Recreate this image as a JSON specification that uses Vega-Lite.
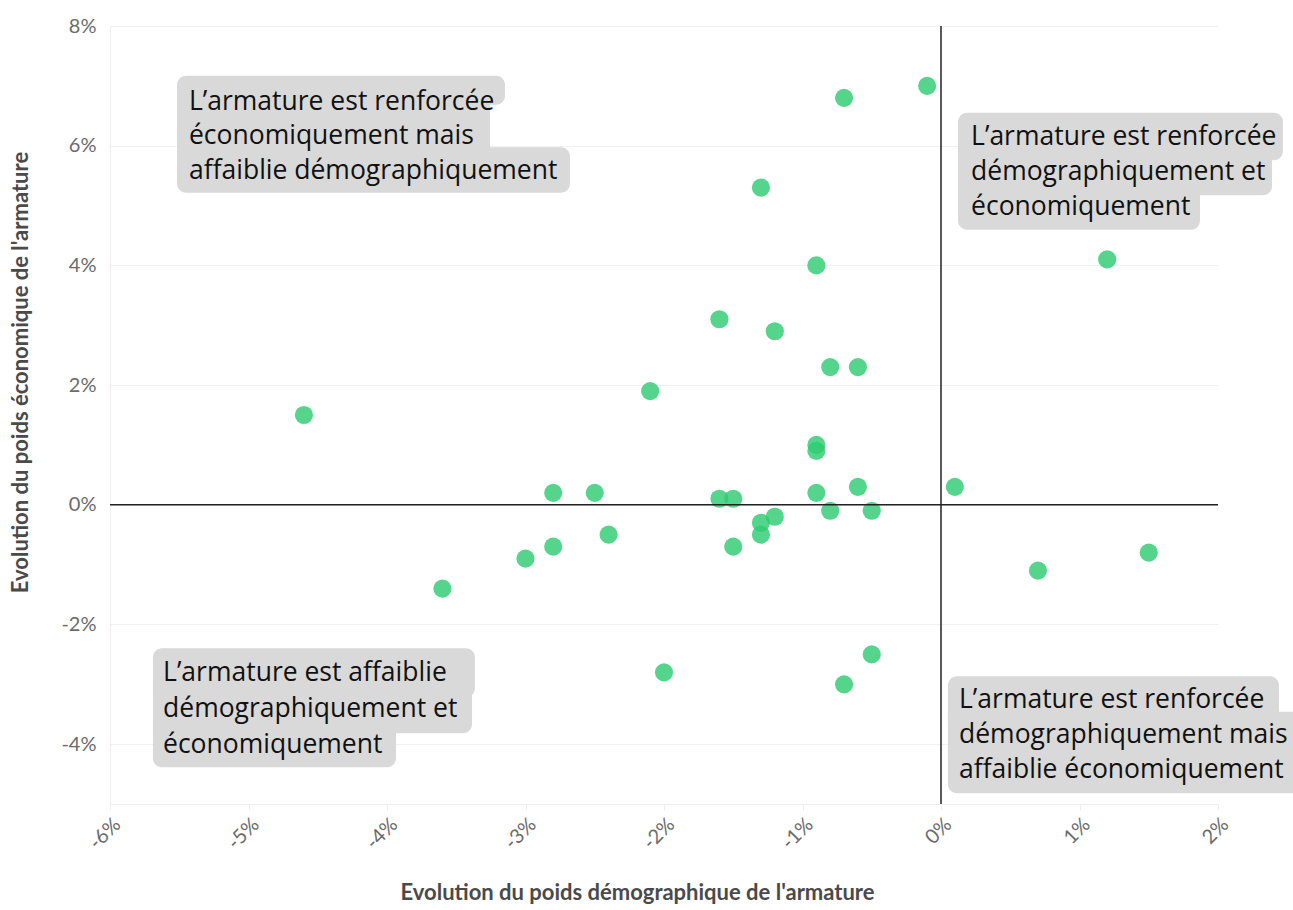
{
  "$schema": "https://vega.github.io/schema/vega-lite/v6.json",
  "width": 1108,
  "height": 778,
  "autosize": {"type": "none"},
  "padding": {"left": 110, "top": 26, "right": 75, "bottom": 106},
  "background": "white",
  "config": {
    "view": {"stroke": null},
    "axis": {
      "labelFont": "Lato",
      "titleFont": "Lato",
      "labelColor": "#6b6b6b",
      "titleColor": "#4a4a4a",
      "labelFontSize": 20,
      "titleFontSize": 22,
      "titleFontWeight": "bold",
      "domainColor": "#eeeeee",
      "tickColor": "#eeeeee",
      "gridColor": "#f0f0f0"
    }
  },
  "datasets": {
    "points": [
      {"demo": -0.1, "eco": 7.0},
      {"demo": -0.7, "eco": 6.8},
      {"demo": -1.3, "eco": 5.3},
      {"demo": 1.2, "eco": 4.1},
      {"demo": -0.9, "eco": 4.0},
      {"demo": -1.6, "eco": 3.1},
      {"demo": -1.2, "eco": 2.9},
      {"demo": -0.8, "eco": 2.3},
      {"demo": -0.6, "eco": 2.3},
      {"demo": -2.1, "eco": 1.9},
      {"demo": -4.6, "eco": 1.5},
      {"demo": -0.9, "eco": 1.0},
      {"demo": -0.9, "eco": 0.9},
      {"demo": 0.1, "eco": 0.3},
      {"demo": -0.6, "eco": 0.3},
      {"demo": -2.8, "eco": 0.2},
      {"demo": -2.5, "eco": 0.2},
      {"demo": -1.6, "eco": 0.1},
      {"demo": -1.5, "eco": 0.1},
      {"demo": -0.9, "eco": 0.2},
      {"demo": -0.8, "eco": -0.1},
      {"demo": -0.5, "eco": -0.1},
      {"demo": -1.2, "eco": -0.2},
      {"demo": -1.3, "eco": -0.3},
      {"demo": -1.3, "eco": -0.5},
      {"demo": -1.5, "eco": -0.7},
      {"demo": -2.4, "eco": -0.5},
      {"demo": -2.8, "eco": -0.7},
      {"demo": -3.0, "eco": -0.9},
      {"demo": -3.6, "eco": -1.4},
      {"demo": 1.5, "eco": -0.8},
      {"demo": 0.7, "eco": -1.1},
      {"demo": -0.5, "eco": -2.5},
      {"demo": -0.7, "eco": -3.0},
      {"demo": -2.0, "eco": -2.8}
    ],
    "notes": [
      {"pos": "top", "text": "L’armature est renforcée", "tx": -5.43, "ty": 6.734, "bx": -5.516, "bx2": -3.148, "by": 7.169, "by2": 6.684},
      {"pos": "mid", "text": "économiquement mais", "tx": -5.43, "ty": 6.166, "bx": -5.516, "bx2": -3.256, "by": 6.885, "by2": 5.773},
      {"pos": "bot", "text": "affaiblie démographiquement", "tx": -5.43, "ty": 5.58, "bx": -5.516, "bx2": -2.679, "by": 5.973, "by2": 5.212},
      {"pos": "top", "text": "L’armature est renforcée", "tx": 0.217, "ty": 6.149, "bx": 0.123, "bx2": 2.469, "by": 6.55, "by2": 5.756},
      {"pos": "mid", "text": "démographiquement et", "tx": 0.217, "ty": 5.564, "bx": 0.123, "bx2": 2.39, "by": 5.957, "by2": 5.171},
      {"pos": "bot", "text": "économiquement", "tx": 0.217, "ty": 4.978, "bx": 0.123, "bx2": 1.87, "by": 5.371, "by2": 4.594},
      {"pos": "top", "text": "L’armature est affaiblie", "tx": -5.617, "ty": -2.814, "bx": -5.69, "bx2": -3.365, "by": -2.396, "by2": -3.216},
      {"pos": "mid", "text": "démographiquement et", "tx": -5.617, "ty": -3.416, "bx": -5.69, "bx2": -3.386, "by": -3.015, "by2": -3.818},
      {"pos": "bot", "text": "économiquement", "tx": -5.617, "ty": -4.018, "bx": -5.69, "bx2": -3.935, "by": -3.617, "by2": -4.386},
      {"pos": "top", "text": "L’armature est renforcée", "tx": 0.13, "ty": -3.266, "bx": 0.05, "bx2": 2.44, "by": -2.865, "by2": -3.659},
      {"pos": "mid", "text": "démographiquement mais", "tx": 0.13, "ty": -3.851, "bx": 0.05, "bx2": 2.62, "by": -3.458, "by2": -4.244},
      {"pos": "bot", "text": "affaiblie économiquement", "tx": 0.13, "ty": -4.436, "bx": 0.05, "bx2": 2.62, "by": -4.043, "by2": -4.821}
    ]
  },
  "layer": [
    {
      "data": {"name": "points"},
      "mark": {"type": "circle", "size": 330, "color": "#2ecc71", "opacity": 0.82},
      "encoding": {
        "x": {
          "field": "demo", "type": "quantitative",
          "scale": {"domain": [-6, 2], "nice": false, "zero": false},
          "axis": {
            "values": [-6, -5, -4, -3, -2, -1, 0, 1, 2],
            "labelExpr": "datum.value + '%'",
            "labelAngle": -45,
            "grid": false,
            "tickSize": 6,
            "labelPadding": 4,
            "title": "Evolution du poids démographique de l'armature",
            "titlePadding": 30,
            "titleX": 527
          }
        },
        "y": {
          "field": "eco", "type": "quantitative",
          "scale": {"domain": [-5, 8], "nice": false, "zero": false},
          "axis": {
            "values": [-4, -2, 0, 2, 4, 6, 8],
            "labelExpr": "datum.value + '%'",
            "grid": true,
            "ticks": false,
            "labelPadding": 14,
            "title": "Evolution du poids économique de l'armature",
            "titlePadding": 28,
            "titleY": 346
          }
        }
      }
    },
    {
      "data": {"values": [{"v": 0}]},
      "mark": {"type": "rule", "color": "#222222", "strokeWidth": 1.5},
      "encoding": {"x": {"field": "v", "type": "quantitative"}}
    },
    {
      "data": {"values": [{"v": 0}]},
      "mark": {"type": "rule", "color": "#222222", "strokeWidth": 1.5},
      "encoding": {"y": {"field": "v", "type": "quantitative"}}
    },
    {
      "data": {"name": "notes"},
      "transform": [{"filter": "datum.pos === 'top'"}],
      "mark": {"type": "rect", "color": "#d9d9d9", "cornerRadiusTopLeft": 9, "cornerRadiusTopRight": 9, "cornerRadiusBottomRight": 9, "cornerRadiusBottomLeft": 0, "clip": false},
      "encoding": {
        "x": {"field": "bx", "type": "quantitative"},
        "x2": {"field": "bx2"},
        "y": {"field": "by", "type": "quantitative"},
        "y2": {"field": "by2"}
      }
    },
    {
      "data": {"name": "notes"},
      "transform": [{"filter": "datum.pos === 'mid'"}],
      "mark": {"type": "rect", "color": "#d9d9d9", "cornerRadiusTopLeft": 0, "cornerRadiusTopRight": 9, "cornerRadiusBottomRight": 9, "cornerRadiusBottomLeft": 0, "clip": false},
      "encoding": {
        "x": {"field": "bx", "type": "quantitative"},
        "x2": {"field": "bx2"},
        "y": {"field": "by", "type": "quantitative"},
        "y2": {"field": "by2"}
      }
    },
    {
      "data": {"name": "notes"},
      "transform": [{"filter": "datum.pos === 'bot'"}],
      "mark": {"type": "rect", "color": "#d9d9d9", "cornerRadiusTopLeft": 0, "cornerRadiusTopRight": 9, "cornerRadiusBottomRight": 9, "cornerRadiusBottomLeft": 9, "clip": false},
      "encoding": {
        "x": {"field": "bx", "type": "quantitative"},
        "x2": {"field": "bx2"},
        "y": {"field": "by", "type": "quantitative"},
        "y2": {"field": "by2"}
      }
    },
    {
      "data": {"name": "notes"},
      "mark": {"type": "text", "align": "left", "baseline": "middle", "font": "Open Sans", "fontSize": 26.5, "color": "#111111", "clip": false},
      "encoding": {
        "x": {"field": "tx", "type": "quantitative"},
        "y": {"field": "ty", "type": "quantitative"},
        "text": {"field": "text"}
      }
    }
  ]
}
